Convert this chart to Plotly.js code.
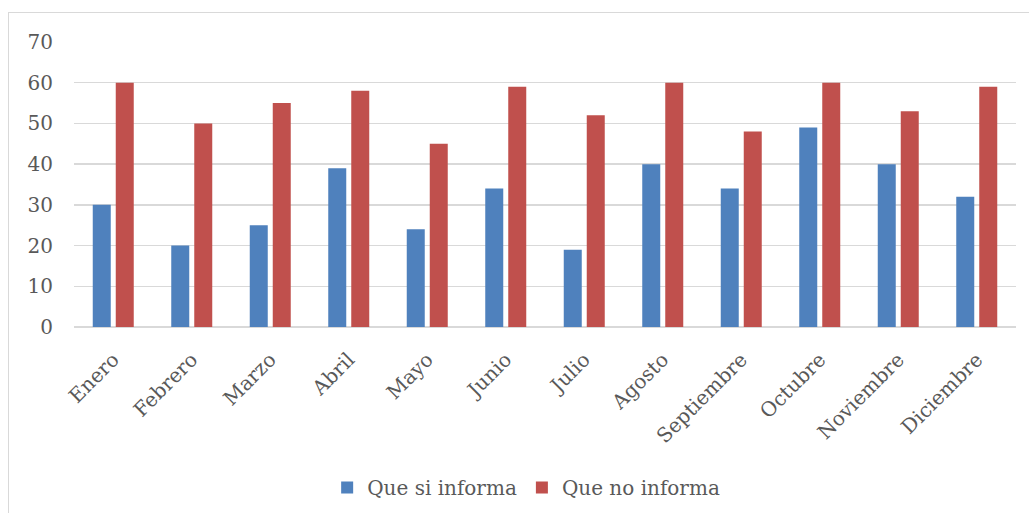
<!DOCTYPE html>
<html>
<head>
<meta charset="utf-8">
<script src="https://cdn.plot.ly/plotly-3.0.1.min.js"></script>
<style>
  html, body { margin: 0; padding: 0; background: #fff; }
  #wrap { position: relative; width: 1029px; height: 513px; overflow: hidden; }
  #chart { width: 1029px; height: 513px; }
  #frame { position: absolute; left: 8px; top: 12px; width: 1040px; height: 520px;
           border-left: 1.5px solid #D9D9D9; border-top: 1.5px solid #D9D9D9; pointer-events: none; }
</style>
</head>
<body>
<div id="wrap">
  <div id="chart"></div>
  <div id="frame"></div>
</div>
<script>
const months = ["Enero","Febrero","Marzo","Abril","Mayo","Junio","Julio","Agosto","Septiembre","Octubre","Noviembre","Diciembre"];
const siInforma = [30, 20, 25, 39, 24, 34, 19, 40, 34, 49, 40, 32];
const noInforma = [60, 50, 55, 58, 45, 59, 52, 60, 48, 60, 53, 59];
const seriesNames = ["Que si informa", "Que no informa"];
const yTicks = [0, 10, 20, 30, 40, 50, 60, 70];

const FONT = "'DejaVu Serif', 'Liberation Serif', serif";
const TXT = "#595959";

const traces = [
  { type: "bar", name: seriesNames[0], x: months, y: siInforma, marker: { color: "#4F81BD" }, hoverinfo: "x+y" },
  { type: "bar", name: seriesNames[1], x: months, y: noInforma, marker: { color: "#C0504D" }, hoverinfo: "x+y" }
];

const layout = {
  width: 1029, height: 513,
  margin: { l: 74, r: 13, t: 42, b: 186, autoexpand: false },
  paper_bgcolor: "#fff", plot_bgcolor: "#fff",
  barmode: "group", bargap: 0.414, bargroupgap: 0.217,
  font: { family: FONT, color: TXT, size: 18 },
  xaxis: {
    type: "category",
    tickangle: -45,
    tickfont: { family: FONT, size: 20, color: TXT },
    showgrid: false, zeroline: false,
    showline: false, ticks: "", ticklabelstandoff: 16,
    automargin: false,
    fixedrange: true
  },
  yaxis: {
    range: [0, 70],
    tickvals: yTicks,
    ticktext: yTicks.map(String),
    tickfont: { family: FONT, size: 20, color: TXT },
    showgrid: true, gridcolor: "#D9D9D9", gridwidth: 1.5,
    zeroline: true, zerolinecolor: "#D9D9D9", zerolinewidth: 1.5,
    showline: false, ticks: "", ticklabelstandoff: 20,
    automargin: false,
    fixedrange: true
  },
  showlegend: true,
  legend: {
    orientation: "h", x: 0.48, xanchor: "center", y: -0.563, yanchor: "middle",
    font: { family: FONT, size: 20, color: TXT },
    itemwidth: 30, traceorder: "normal"
  }
};

Plotly.newPlot("chart", traces, layout, { displayModeBar: false, staticPlot: true });
</script>
</body>
</html>
